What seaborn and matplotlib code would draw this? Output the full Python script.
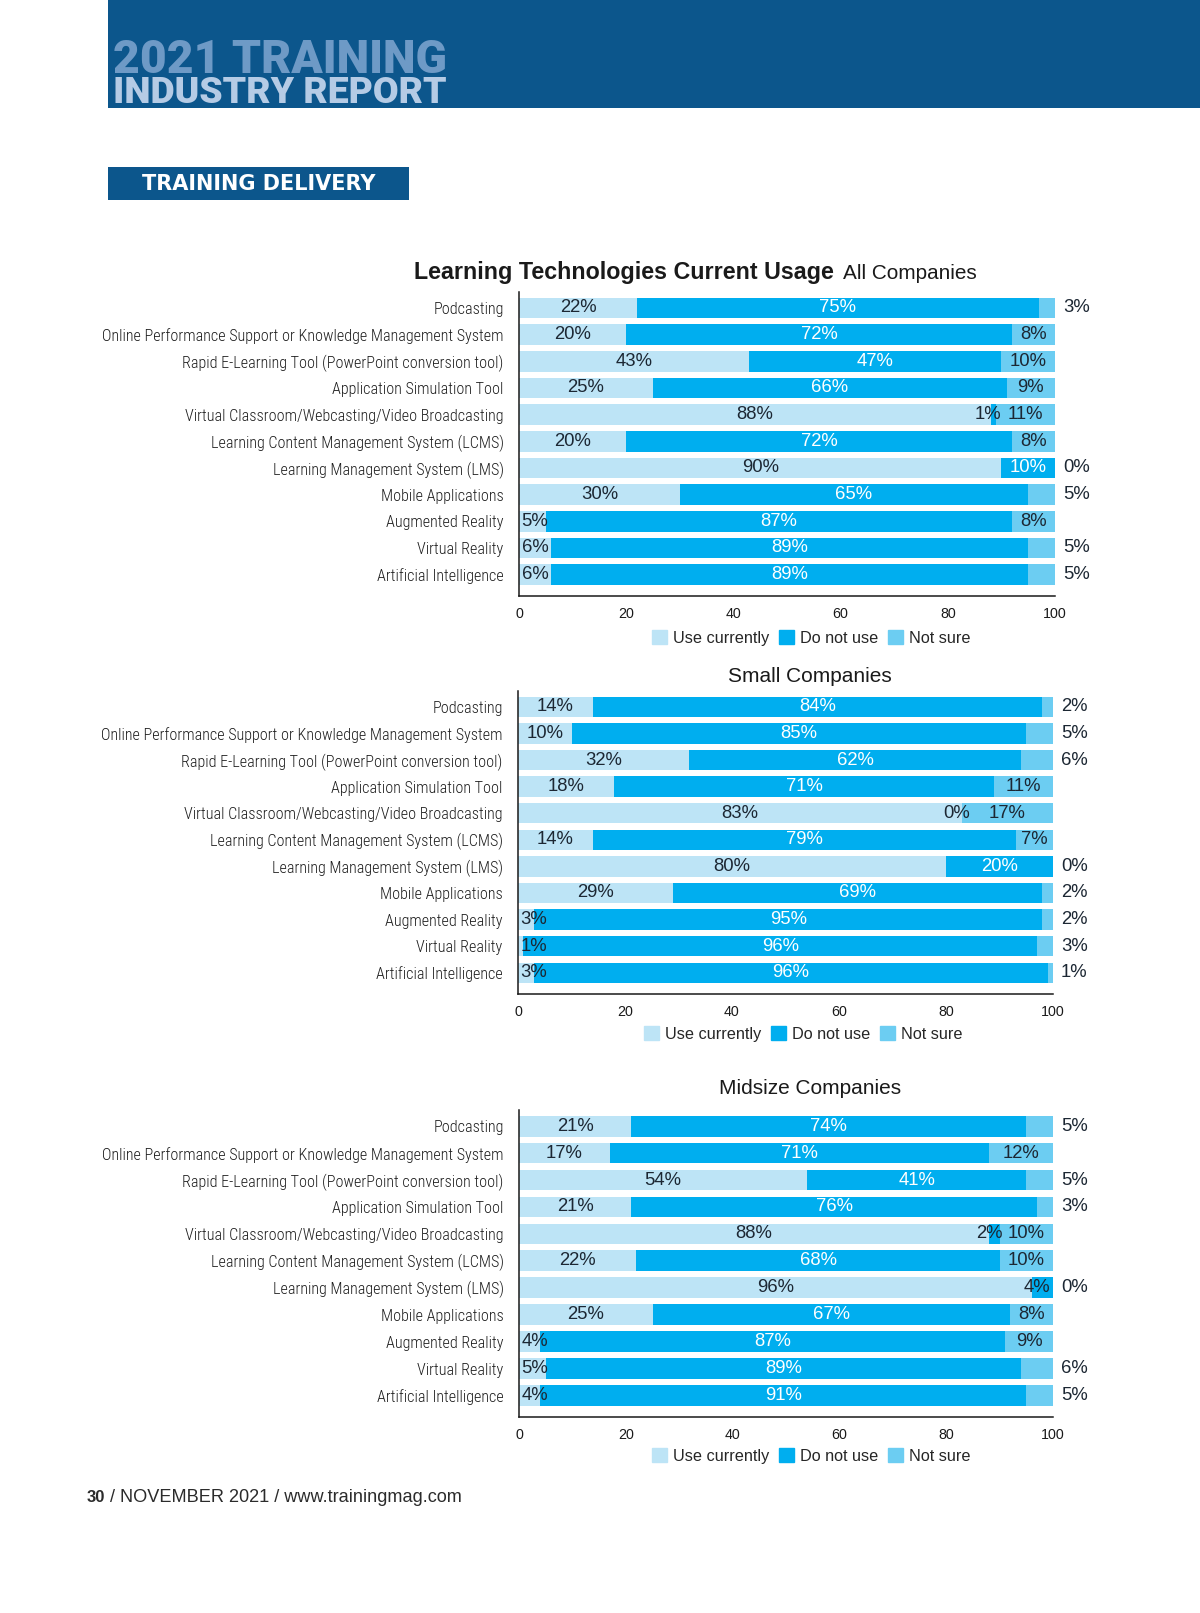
import numpy as np
import pandas as pd
import matplotlib
matplotlib.use("Agg")
import matplotlib.pyplot as plt
import matplotlib.patches as mpatches
from matplotlib import font_manager
import seaborn as sns

# ---------------- data ----------------
categories = [
    "Podcasting",
    "Online Performance Support or Knowledge Management System",
    "Rapid E-Learning Tool (PowerPoint conversion tool)",
    "Application Simulation Tool",
    "Virtual Classroom/Webcasting/Video Broadcasting",
    "Learning Content Management System (LCMS)",
    "Learning Management System (LMS)",
    "Mobile Applications",
    "Augmented Reality",
    "Virtual Reality",
    "Artificial Intelligence",
]
series_names = ["Use currently", "Do not use", "Not sure"]

all_use = [22, 20, 43, 25, 88, 20, 90, 30, 5, 6, 6]
all_not = [75, 72, 47, 66, 1, 72, 10, 65, 87, 89, 89]
all_unsure = [3, 8, 10, 9, 11, 8, 0, 5, 8, 5, 5]

small_use = [14, 10, 32, 18, 83, 14, 80, 29, 3, 1, 3]
small_not = [84, 85, 62, 71, 0, 79, 20, 69, 95, 96, 96]
small_unsure = [2, 5, 6, 11, 17, 7, 0, 2, 2, 3, 1]

mid_use = [21, 17, 54, 21, 88, 22, 96, 25, 4, 5, 4]
mid_not = [74, 71, 41, 76, 2, 68, 4, 67, 87, 89, 91]
mid_unsure = [5, 12, 5, 3, 10, 10, 0, 8, 9, 6, 5]

x_ticks = [0, 20, 40, 60, 80, 100]
chart_titles = ["All Companies", "Small Companies", "Midsize Companies"]
main_title = "Learning Technologies Current Usage"

# ---------------- style ----------------
sns.set_style("white")
avail = {f.name for f in font_manager.fontManager.ttflist}


def pick(cands, default):
    for c in cands:
        if c in avail:
            return c
    return default


base_font = pick(["Liberation Sans"], "DejaVu Sans")
narrow_font = pick(["Roboto Condensed", "Archivo Narrow", "PT Sans Narrow",
                    "Liberation Sans Narrow", "Roboto"], base_font)
heavy_font = pick(["Roboto"], base_font)
plt.rcParams["font.family"] = [base_font, "DejaVu Sans"]

C_USE = "#bde4f6"
C_NOT = "#00aeef"
C_UNSURE = "#6ccdf2"
C_HEAD = "#0c568c"
TXT_DARK = "#1c2733"
LBL = "#1e1e1e"

W, H = 1200, 1613
fig = plt.figure(figsize=(W / 100, H / 100), dpi=100)
fig.patch.set_facecolor("white")


def px_axes(left, right, top, bottom, **kw):
    return fig.add_axes([left / W, 1 - bottom / H, (right - left) / W, (bottom - top) / H], **kw)


renderer = fig.canvas.get_renderer()


def fit_width(t, target):
    bb = t.get_window_extent(renderer)
    if bb.width > 0:
        t.set_fontsize(t.get_fontsize() * target / bb.width)


# ---------------- header ----------------
bg = px_axes(0, W, 0, H)
bg.set_xlim(0, W)
bg.set_ylim(H, 0)
bg.axis("off")
bg.set_zorder(-10)
bg.add_patch(mpatches.Rectangle((108, 0), W - 108, 108, color=C_HEAD, lw=0))
bg.add_patch(mpatches.Rectangle((108, 167), 301, 33, color=C_HEAD, lw=0))

t1 = bg.text(113, 73, "2021 TRAINING", color="#6e9ac6", fontsize=30,
             fontweight="black", family=[heavy_font, "DejaVu Sans"],
             ha="left", va="baseline")
fit_width(t1, 334)
t2 = bg.text(113, 103, "INDUSTRY REPORT", color="#b5cbe5", fontsize=24,
             fontweight="black", family=[heavy_font, "DejaVu Sans"],
             ha="left", va="baseline")
fit_width(t2, 334)
bg.text(259, 184, "TRAINING DELIVERY", color="white", fontsize=15,
        fontweight="bold", family="DejaVu Sans", ha="center", va="center")

# footer
f1 = bg.text(87, 1497, "30", color="#2b2b2b", fontsize=12, fontweight="bold",
             ha="left", va="center")
fw = f1.get_window_extent(renderer).width
f2 = bg.text(87 + fw, 1497, " / NOVEMBER 2021 / www.trainingmag.com", color="#2b2b2b",
             fontsize=12, ha="left", va="center")
fit_width(f2, 376 - fw)

# titles
tt = bg.text(414, 279, main_title, color="#1a1a1a", fontsize=17, fontweight="bold",
             ha="left", va="baseline")
fit_width(tt, 420)
ta = bg.text(843, 279, chart_titles[0], color="#1a1a1a", fontsize=15,
             ha="left", va="baseline")
fit_width(ta, 134)
bg.text(810, 677, chart_titles[1], color="#1a1a1a", fontsize=15, ha="center", va="center")
bg.text(810, 1089, chart_titles[2], color="#1a1a1a", fontsize=15, ha="center", va="center")

# ---------------- charts ----------------
datasets = [
    (all_use, all_not, all_unsure),
    (small_use, small_not, small_unsure),
    (mid_use, mid_not, mid_unsure),
]
axes_px = [
    (519, 1055, 292, 596),
    (518, 1053, 691, 994),
    (519, 1053, 1110, 1417),
]
legend_px = [(811, 638), (803, 1034), (811, 1456)]

all_axes = []
for (use, dno, uns), (l, r, tp, bt), (lx, ly) in zip(datasets, axes_px, legend_px):
    ax = px_axes(l, r, tp, bt)
    all_axes.append(ax)
    df = pd.DataFrame({
        "cat": categories,
        "use": use,
        "dno": dno,
        "uns": uns,
    })
    df["c2"] = df["use"] + df["dno"]
    df["c3"] = df["c2"] + df["uns"]
    for col, colr in [("c3", C_UNSURE), ("c2", C_NOT), ("use", C_USE)]:
        sns.barplot(data=df, x=col, y="cat", orient="h", color=colr, saturation=1,
                    width=0.77, ax=ax, linewidth=0, errorbar=None)
    ax.set_xlim(0, 100)
    ax.set_ylim(10.8, -0.6)
    ax.set_xlabel("")
    ax.set_ylabel("")
    ax.set_xticks(x_ticks)
    ax.set_xticklabels([str(v) for v in x_ticks], fontsize=10.3, color="#1a1a1a")
    ax.tick_params(axis="x", direction="in", length=6, width=1, color="#1a1a1a", pad=8)
    ax.tick_params(axis="y", length=0, pad=11)
    for s in ["top", "right"]:
        ax.spines[s].set_visible(False)
    for s in ["left", "bottom"]:
        ax.spines[s].set_color("#1a1a1a")
        ax.spines[s].set_linewidth(1.1)
    for lab in ax.get_yticklabels():
        lab.set_family([narrow_font, "DejaVu Sans"])
        lab.set_fontweight("light")
        lab.set_color(LBL)
        lab.set_fontsize(13)

    # value labels
    for i in range(len(categories)):
        u, d, n = use[i], dno[i], uns[i]
        fs = 13.3
        if u >= 7:
            ax.text(u / 2, i, f"{u}%", ha="center", va="center", color=TXT_DARK, fontsize=fs)
        else:
            ax.text(0.5, i, f"{u}%", ha="left", va="center", color=TXT_DARK, fontsize=fs)
        if d >= 7:
            ax.text(u + d / 2, i, f"{d}%", ha="center", va="center", color="white", fontsize=fs)
        else:
            ax.text(u + d / 2 - 1, i, f"{d}%", ha="center", va="center", color=TXT_DARK, fontsize=fs)
        if n >= 7:
            ax.text(u + d + n / 2, i, f"{n}%", ha="center", va="center", color=TXT_DARK, fontsize=fs)
        else:
            ax.text(101.5, i, f"{n}%", ha="left", va="center", color=TXT_DARK, fontsize=fs,
                    clip_on=False)

    handles = [mpatches.Patch(color=c, label=nm) for c, nm in zip([C_USE, C_NOT, C_UNSURE], series_names)]
    fig.legend(handles=handles, loc="center", bbox_to_anchor=(lx / W, 1 - ly / H), ncol=3,
               frameon=False, fontsize=11.7, handlelength=0.95, handleheight=0.95,
               handletextpad=0.35, columnspacing=0.6, borderaxespad=0)

# fit category label size to reference width of longest label
lab0 = max(all_axes[0].get_yticklabels(), key=lambda t: len(t.get_text()))
w0 = lab0.get_window_extent(renderer).width
scale = 400 / w0 if w0 > 0 else 1
for ax in all_axes:
    for lab in ax.get_yticklabels():
        lab.set_fontsize(13 * scale)

fig.savefig("out.png", dpi=100, facecolor="white")
